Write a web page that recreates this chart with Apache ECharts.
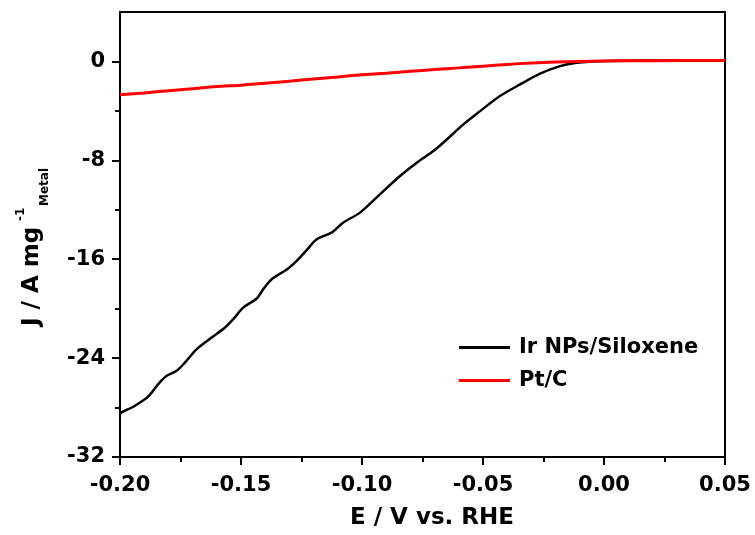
<!DOCTYPE html>
<html>
<head>
<meta charset="utf-8">
<script src="https://cdn.jsdelivr.net/npm/echarts@6/dist/echarts.min.js"></script>
<style>
html,body{margin:0;padding:0;background:#fff;}
#chart{width:755px;height:535px;}
</style>
</head>
<body>
<div id="chart"></div>
<script>
// Ir NPs/Siloxene
const irE = [-0.2, -0.1993, -0.1938, -0.1883, -0.1842, -0.1807, -0.1766, -0.1731, -0.1683, -0.1621, -0.1566, -0.1532, -0.1490, -0.1435, -0.1408, -0.1373, -0.1305, -0.1270, -0.1229, -0.1187, -0.1125, -0.1077, -0.1008, -0.0926, -0.0843, -0.0774, -0.0705, -0.0664, -0.0581, -0.0512, -0.0430, -0.0347, -0.0264, -0.0182, -0.0113, -0.0030, 0.01, 0.03, 0.05];
const irJ = [-28.5, -28.39, -27.85, -27.1, -26.1, -25.43, -25.03, -24.35, -23.27, -22.33, -21.52, -20.85, -19.9, -19.18, -18.42, -17.62, -16.75, -16.14, -15.27, -14.38, -13.84, -13.03, -12.23, -10.75, -9.27, -8.19, -7.25, -6.57, -5.09, -4.02, -2.80, -1.86, -0.99, -0.38, -0.11, 0.02, 0.06, 0.07, 0.08];
// Pt/C
const ptE = [-0.2, -0.19, -0.18, -0.17, -0.16, -0.15, -0.14, -0.13, -0.12, -0.11, -0.10, -0.09, -0.08, -0.07, -0.06, -0.05, -0.04, -0.03, -0.02, -0.01, 0.0, 0.02, 0.05];
const ptJ = [-2.7, -2.55, -2.37, -2.2, -2.03, -1.92, -1.76, -1.6, -1.42, -1.25, -1.08, -0.95, -0.8, -0.65, -0.52, -0.38, -0.24, -0.12, -0.04, 0.0, 0.03, 0.06, 0.08];
const seriesNames = ['Ir NPs/Siloxene', 'Pt/C'];
const xMajorTicks = [-0.2, -0.15, -0.1, -0.05, 0, 0.05];
const xMinorTicks = [-0.175, -0.125, -0.075, -0.025, 0.025];
const yMajorTicks = [-32, -24, -16, -8, 0];
const yMinorTicks = [-28, -20, -12, -4];

const FONT = '"DejaVu Sans", Arial, sans-serif';
const chart = echarts.init(document.getElementById('chart'), null, {renderer: 'canvas'});
const zip = (a, b) => a.map((v, i) => [v, b[i]]);

const xBase = {
  type: 'value', min: -0.2, max: 0.05, position: 'bottom',
  splitLine: {show: false},
  axisLine: {show: true, onZero: false, lineStyle: {color: '#000', width: 2}},
};
const yBase = {
  type: 'value', min: -32, max: 4, position: 'left',
  splitLine: {show: false},
  axisLine: {show: true, onZero: false, lineStyle: {color: '#000', width: 2}},
};

chart.setOption({
  animation: false,
  backgroundColor: '#fff',
  grid: {left: 120, right: 30, top: 12, bottom: 78, show: true, borderColor: '#000', borderWidth: 2, backgroundColor: 'transparent'},
  xAxis: [
    Object.assign({}, xBase, {
      axisTick: {show: true, inside: false, length: 8, lineStyle: {color: '#000', width: 2}, customValues: xMajorTicks},
      axisLabel: {show: true, customValues: xMajorTicks, formatter: v => v.toFixed(2), color: '#000', fontFamily: FONT, fontWeight: 'bold', fontSize: 21, margin: 18}
    }),
    Object.assign({}, xBase, {
      axisTick: {show: true, inside: false, length: 5, lineStyle: {color: '#000', width: 2}, customValues: xMinorTicks},
      axisLabel: {show: false}
    })
  ],
  yAxis: [
    Object.assign({}, yBase, {
      axisTick: {show: true, inside: false, length: 8, lineStyle: {color: '#000', width: 2}, customValues: yMajorTicks},
      axisLabel: {show: true, customValues: yMajorTicks, color: '#000', fontFamily: FONT, fontWeight: 'bold', fontSize: 21, margin: 15}
    }),
    Object.assign({}, yBase, {
      axisTick: {show: true, inside: false, length: 5, lineStyle: {color: '#000', width: 2}, customValues: yMinorTicks},
      axisLabel: {show: false}
    })
  ],
  legend: {
    orient: 'vertical', left: 459, top: 337, padding: 0, itemWidth: 51, itemHeight: 3, itemGap: 12,
    icon: 'rect',
    textStyle: {color: '#000', fontFamily: FONT, fontWeight: 'bold', fontSize: 21, padding: [0, 0, 0, 4]},
    data: seriesNames
  },
  graphic: [
    {type: 'text', x: 432, y: 518, style: {text: 'E / V vs. RHE', font: 'bold 23px ' + FONT, fill: '#000', textAlign: 'center', textVerticalAlign: 'middle'}},
    {type: 'text', x: 21, y: 326, rotation: Math.PI / 2, style: {text: 'J / A mg', font: 'bold 23px ' + FONT, fill: '#000', textVerticalAlign: 'top'}},
    {type: 'text', x: 15, y: 221, rotation: Math.PI / 2, style: {text: '-1', font: 'bold 12px ' + FONT, fill: '#000', textVerticalAlign: 'top'}},
    {type: 'text', x: 39, y: 206, rotation: Math.PI / 2, style: {text: 'Metal', font: 'bold 12px ' + FONT, fill: '#000', textVerticalAlign: 'top'}}
  ],
  series: [
    {name: seriesNames[0], type: 'line', xAxisIndex: 0, yAxisIndex: 0, data: zip(irE, irJ), showSymbol: false, smooth: 0.3, lineStyle: {color: '#000', width: 2.5}, itemStyle: {color: '#000'}, z: 3},
    {name: seriesNames[1], type: 'line', xAxisIndex: 0, yAxisIndex: 0, data: zip(ptE, ptJ), showSymbol: false, smooth: 0.3, lineStyle: {color: '#ff0000', width: 3}, itemStyle: {color: '#ff0000'}, z: 4}
  ]
});
</script>
</body>
</html>
